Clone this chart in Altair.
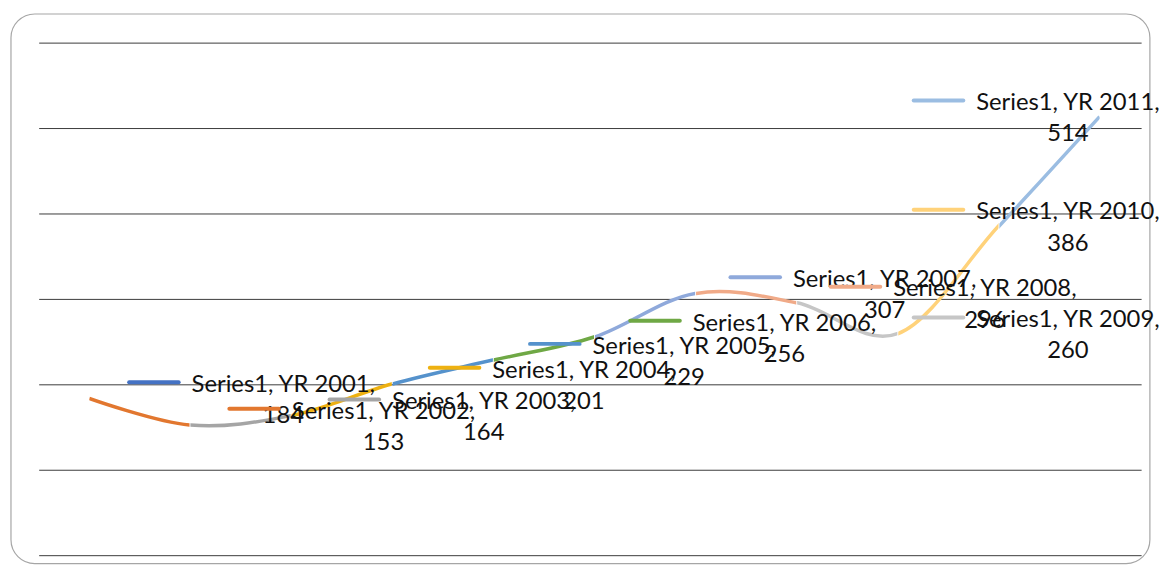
import altair as alt
import pandas as pd

# ---- data ----
years = ["YR 2001", "YR 2002", "YR 2003", "YR 2004", "YR 2005", "YR 2006",
         "YR 2007", "YR 2008", "YR 2009", "YR 2010", "YR 2011"]
values = [184, 153, 164, 201, 229, 256, 307, 296, 260, 386, 514]
point_colors = ["#4472C4", "#E2772F", "#A5A5A5", "#EEB111", "#5592CC", "#6FA845",
                "#8FA9DB", "#F0AA88", "#C6C6C6", "#FFD27A", "#9BBDE2"]
grid_values = [0, 100, 200, 300, 400, 500, 600]
series_name = "Series1"

# ---- layout constants (pixels) ----
N = len(values)
PLOT_W = 1112.0
W = PLOT_W / N          # width of one category slot
H = 517.0               # plot height (0..600)
Y_MAX = 600
PX_PER_UNIT = H / Y_MAX
FONT = "Lato"
FSIZE = 24

df = pd.DataFrame({"idx": list(range(N)), "year": years, "value": values, "color": point_colors})
df["label1"] = series_name + ", " + df["year"] + ","
df["label2"] = df["value"].astype(str)

grid = pd.DataFrame({"g": grid_values})
grid["gx0"] = -0.5
grid["gx1"] = N - 0.5

# outer rounded frame, in panel-0 data units (kept inside the page)
frame_df = pd.DataFrame({
    "fx0": [-79.0 / W], "fx1": [1069.8 / W],
    "fy0": [Y_MAX + 29.4 / PX_PER_UNIT], "fy1": [Y_MAX - 525.0 / PX_PER_UNIT],
})

key_max = (911 - 89.6) / W   # labels pushed inside the right edge of the chart area
key_shift = 30.0 / W
key_dy_units = 16.3 / PX_PER_UNIT


def xscale(i):
    return alt.Scale(domain=[i, i + 1], nice=False, zero=False)


def yscale():
    return alt.Scale(domain=[0, Y_MAX], nice=False, zero=True)


panels = []
for i in range(N - 1):
    layers = []
    if i == 0:
        frame = alt.Chart(frame_df).mark_rect(
            filled=False, stroke="#A6A6A6", strokeWidth=1.2, cornerRadius=24
        ).encode(
            x=alt.X("fx0:Q", scale=xscale(i), axis=None), x2="fx1:Q",
            y=alt.Y("fy0:Q", scale=yscale(), axis=None), y2="fy1:Q",
        )
        rules = alt.Chart(grid).mark_rule(color="#3A3A3A", strokeWidth=1).encode(
            x=alt.X("gx0:Q", scale=xscale(i), axis=None),
            x2="gx1:Q",
            y=alt.Y("g:Q", scale=yscale(), axis=None),
        )
        layers += [frame, rules]
    line = alt.Chart(df).mark_line(
        interpolate="cardinal", clip=True, strokeWidth=3.5,
        color=point_colors[i + 1], strokeCap="butt"
    ).encode(
        x=alt.X("idx:Q", scale=xscale(i), axis=None),
        y=alt.Y("value:Q", scale=yscale(), axis=None),
    )
    layers.append(line)
    if i == N - 2:
        for j in range(N):
            b = alt.Chart(df).transform_filter(
                alt.datum.idx == j
            ).transform_calculate(
                kx=f"min(datum.idx + {key_shift}, {key_max})"
            ).transform_calculate(
                kx1=f"datum.kx + {2.0 / W}",
                kx2=f"datum.kx + {52.0 / W}",
                ky=f"datum.value + {key_dy_units}",
            )
            key = b.mark_rule(strokeWidth=4, strokeCap="round", color=point_colors[j]).encode(
                x=alt.X("kx1:Q", scale=xscale(i), axis=None),
                x2="kx2:Q",
                y=alt.Y("ky:Q", scale=yscale(), axis=None),
            )
            t1 = b.mark_text(align="center", baseline="alphabetic", dx=157.5, dy=-6.5,
                             font=FONT, fontSize=FSIZE, color="#111111").encode(
                x=alt.X("kx:Q", scale=xscale(i), axis=None),
                y=alt.Y("value:Q", scale=yscale(), axis=None),
                text="label1:N",
            )
            t2 = b.mark_text(align="center", baseline="alphabetic", dx=157.5, dy=25,
                             font=FONT, fontSize=FSIZE, color="#111111").encode(
                x=alt.X("kx:Q", scale=xscale(i), axis=None),
                y=alt.Y("value:Q", scale=yscale(), axis=None),
                text="label2:N",
            )
            layers += [key, t1, t2]
    panels.append(alt.layer(*layers).properties(width=W, height=H))

chart = alt.hconcat(*panels, spacing=0, bounds="flush").properties(
    padding={"left": 2, "top": 2, "right": 0, "bottom": 0},
    background="white",
).configure_view(strokeWidth=0)

chart.save("out.html", embed_options={"renderer": "svg", "actions": False})
